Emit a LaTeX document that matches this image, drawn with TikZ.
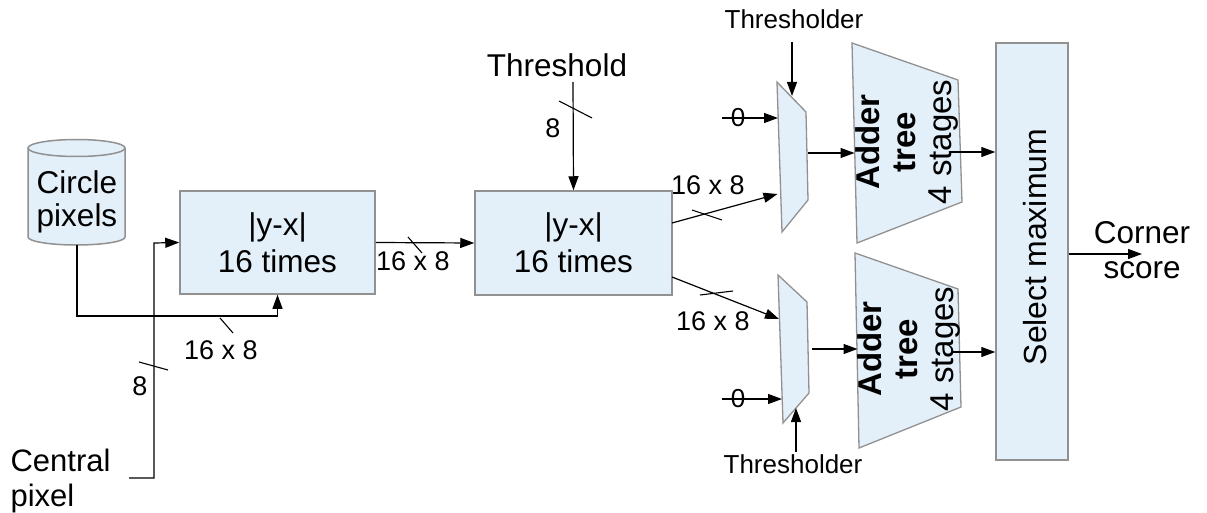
\documentclass[tikz,border=0pt]{standalone}
\usepackage{fontspec}
\setmainfont{Liberation Sans}
\usetikzlibrary{arrows.meta,calc}
\definecolor{boxfill}{RGB}{227,239,249}
\definecolor{boxdraw}{RGB}{145,145,145}
\begin{document}
\begin{tikzpicture}[x=1pt,y=-1pt,
  line width=1.2pt,
  arr/.style={-{Triangle[length=14pt,width=10pt]}},
  blk/.style={draw=boxdraw, fill=boxfill, line width=1.5pt},
  big/.style={font=\fontsize{31.5}{37}\selectfont},
  small/.style={font=\fontsize{27}{30}\selectfont},
  tiny/.style={font=\fontsize{26}{28}\selectfont},
  tick/.style={line width=1.1pt},
  lbl/.style={inner sep=0pt}]
\useasboundingbox (0,0) rectangle (1207,513);

% Cylinder: Circle pixels
\fill[boxfill] (28,148) -- (28,237) arc[start angle=180,end angle=360,x radius=48.5pt,y radius=8pt] -- (125,148) arc[start angle=0,end angle=180,x radius=48.5pt,y radius=8pt] -- cycle;
\draw[boxdraw,line width=1.5pt] (28,148) -- (28,237) arc[start angle=180,end angle=360,x radius=48.5pt,y radius=8pt] -- (125,148);
\draw[boxdraw,line width=1.5pt] (76.5,148) ellipse[x radius=48.5pt,y radius=8.5pt];
\node[lbl,font=\fontsize{31.5}{33}\selectfont,align=center] (cyl) at (77,202) {Circle\\pixels};
\coordinate (cylbot) at (77,245);

% Blocks
\node[blk,minimum width=195pt,minimum height=103pt,big,align=center] (b1) at (277.5,242.5) {|y-x|\\16 times};
\node[blk,minimum width=197pt,minimum height=104pt,big,align=center] (b2) at (573.5,243) {|y-x|\\16 times};

% Central pixel
\node[lbl,anchor=north west,font=\fontsize{31}{35}\selectfont,align=left] (cp) at (10,448) {Central\\pixel};
\coordinate (cpout) at (129,478);

% Threshold
\node[lbl,big] (th) at (557,65) {Threshold};
\coordinate (thout) at (573,82);

% Muxes
\coordinate (m1a) at (777,82); \coordinate (m1b) at (806,112);
\coordinate (m1c) at (808,200); \coordinate (m1d) at (782,232);
\draw[blk,line width=1.3pt] (m1a) -- (m1b) -- (m1c) -- (m1d) -- cycle;
\coordinate (m2a) at (778,275); \coordinate (m2b) at (807,302);
\coordinate (m2c) at (809,393); \coordinate (m2d) at (783,423);
\draw[blk,line width=1.3pt] (m2a) -- (m2b) -- (m2c) -- (m2d) -- cycle;

% Adder trees
\coordinate (a1a) at (852,43); \coordinate (a1b) at (958,80);
\coordinate (a1c) at (962,202); \coordinate (a1d) at (857,243);
\draw[blk,line width=1.3pt] (a1a) -- (a1b) -- (a1c) -- (a1d) -- cycle;
\node[lbl,rotate=90,align=center,font=\fontsize{33}{36}\selectfont] (a1t) at (907,142) {\textbf{Adder}\\\textbf{tree}\\4 stages};
\coordinate (a2a) at (855,253); \coordinate (a2b) at (958,289);
\coordinate (a2c) at (961,407); \coordinate (a2d) at (859,448);
\draw[blk,line width=1.3pt] (a2a) -- (a2b) -- (a2c) -- (a2d) -- cycle;
\node[lbl,rotate=90,align=center,font=\fontsize{33}{36}\selectfont] (a2t) at (909,349) {\textbf{Adder}\\\textbf{tree}\\4 stages};

% Select maximum
\node[blk,minimum width=72pt,minimum height=417pt] (sel) at (1032,251.5) {};
\node[lbl,rotate=90,font=\fontsize{32}{36}\selectfont] (selt) at (1035,247) {Select maximum};

% Corner score
\node[lbl,font=\fontsize{31.5}{35}\selectfont,align=center] (cs) at (1142,250) {Corner\\score};

% Thresholder labels
\node[lbl,tiny] (thr1) at (794,19) {Thresholder};
\node[lbl,tiny] (thr2) at (793,464) {Thresholder};
\coordinate (thr1o) at (792,42);
\coordinate (thr2o) at (796,452);

% zero inputs
\coordinate (z1) at (722,118);
\coordinate (z2) at (722,399);

% Connectors
\draw[arr] (cylbot) |- (277.5,316) -- (b1.south);
\draw[arr] (cpout) -| (154,243) -- (b1.west);
\draw[arr] (b1.east) -- (b2.west);
\draw[arr] (thout) -- (b2.north);
\draw[arr] (672,223) -- (777.5,194);
\draw[arr] (672,277) -- (779,319);
\draw[arr] (z1) -- (778,118);
\draw[arr] (z2) -- (782,399);
\draw[arr] (thr1o) -- (792,96);
\draw[arr] (thr2o) -- (796,408);
\draw[arr] (808,153) -- (854.5,153);
\draw[arr] (812,349) -- (857.5,349);
\draw[arr] (950,152) -- (sel.west |- 0,152);
\draw[arr] (953,352) -- (sel.west |- 0,352);
\draw[arr] (sel.east |- 0,254) -- (1142,254);

% zero labels
\node[lbl,font=\fontsize{26}{28}\selectfont] (zl1) at (738,118) {0};
\node[lbl,font=\fontsize{26}{28}\selectfont] (zl2) at (738,399) {0};

% bus ticks
\draw[tick] (220,318) -- (233,333);
\draw[tick] (139,362) -- (168,370);
\draw[tick] (408,237) -- (422,253);
\draw[tick] (559,101) -- (592,118);
\draw[tick] (692,210) -- (722,220);
\draw[tick] (700,295) -- (733,291);

% bus width labels
\node[lbl,small] (w1) at (221,350) {16 x 8};
\node[lbl,small] (w2) at (413,261) {16 x 8};
\node[lbl,small] (w3) at (708,185) {16 x 8};
\node[lbl,small] (w4) at (713,321) {16 x 8};
\node[lbl,small] (w5) at (140,386) {8};
\node[lbl,small] (w6) at (553,128) {8};
\end{tikzpicture}
\end{document}
